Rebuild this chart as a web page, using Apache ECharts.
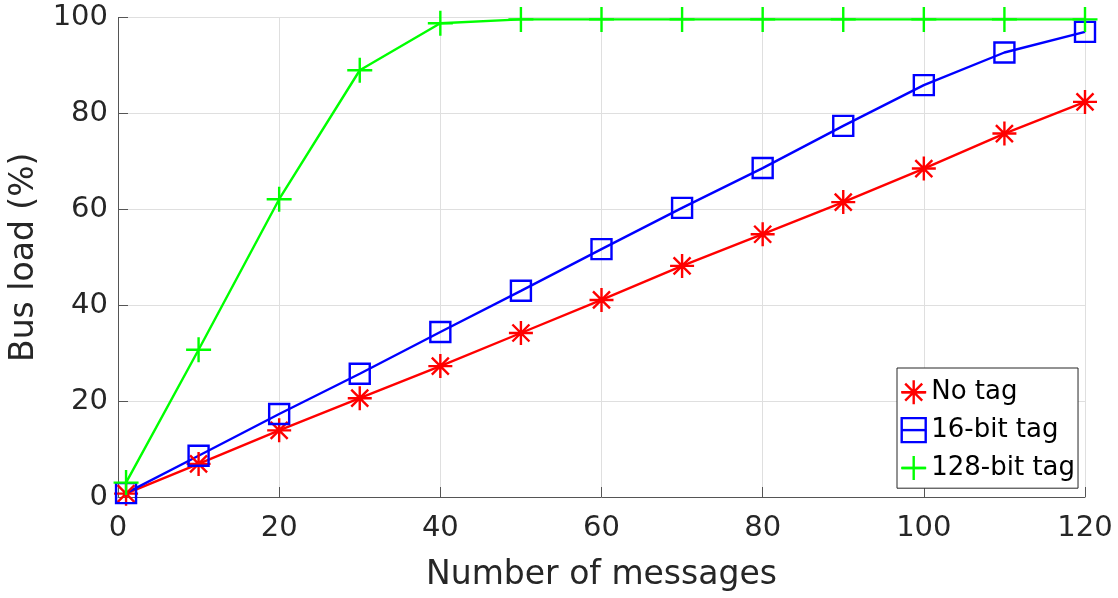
<!DOCTYPE html>
<html>
<head>
<meta charset="utf-8">
<script src="https://cdn.jsdelivr.net/npm/echarts@6/dist/echarts.min.js"></script>
<style>
  html, body { margin: 0; padding: 0; background: #fff; }
  #chart { width: 1118px; height: 598px; }
</style>
</head>
<body>
<div id="chart"></div>
<script>
const messages = [1, 10, 20, 30, 40, 50, 60, 70, 80, 90, 100, 110, 120];
const noTag = [0.7, 6.9, 13.9, 20.6, 27.3, 34.2, 41.1, 48.2, 54.8, 61.5, 68.5, 75.8, 82.4];
const tag16 = [0.8, 8.6, 17.3, 25.7, 34.4, 43.0, 51.7, 60.3, 68.6, 77.4, 85.9, 92.7, 97.0];
const tag128 = [3.0, 30.7, 62.1, 89.0, 98.8, 99.6, 99.6, 99.6, 99.6, 99.6, 99.6, 99.6, 99.6];
const seriesNames = ['No tag', '16-bit tag', '128-bit tag'];
const xTicks = { min: 0, max: 120, interval: 20 };
const yTicks = { min: 0, max: 100, interval: 20 };

const FONT = 'DejaVu Sans';
const ASTERISK = 'path://M12,0L12,24M0,12L24,12M3.5,3.5L20.5,20.5M20.5,3.5L3.5,20.5';
const PLUS = 'path://M12,0L12,24M0,12L24,12';

function pairs(ys) { return messages.map((x, i) => [x, ys[i]]); }

function mkSeries(name, ys, color, symbol, size) {
  return {
    name: name,
    type: 'line',
    data: pairs(ys),
    symbol: symbol,
    symbolSize: size,
    showAllSymbol: true,
    clip: false,
    lineStyle: { color: color, width: 2.4 },
    itemStyle: { color: 'transparent', borderColor: color, borderWidth: 2.4 },
    emphasis: { disabled: true },
    animation: false
  };
}

const chart = echarts.init(document.getElementById('chart'), null, { renderer: 'canvas' });
chart.setOption({
  animation: false,
  backgroundColor: '#fff',
  grid: { left: 118, right: 33, top: 17.5, bottom: 101, outerBoundsMode: 'none' },
  xAxis: {
    type: 'value',
    min: xTicks.min, max: xTicks.max, interval: xTicks.interval,
    name: 'Number of messages',
    nameLocation: 'middle',
    nameGap: 62,
    nameTextStyle: { fontFamily: FONT, fontSize: 33, color: '#262626' },
    axisLine: { show: true, lineStyle: { color: '#555', width: 1 } },
    axisTick: { show: true, inside: true, length: 10, lineStyle: { color: '#555' } },
    axisLabel: { fontFamily: FONT, fontSize: 29, color: '#262626', margin: 17 },
    splitLine: { show: true, lineStyle: { color: '#dfdfdf', width: 1 } }
  },
  yAxis: {
    type: 'value',
    min: yTicks.min, max: yTicks.max, interval: yTicks.interval,
    name: 'Bus load (%)',
    nameLocation: 'middle',
    nameGap: 77,
    nameTextStyle: { fontFamily: FONT, fontSize: 33, color: '#262626' },
    axisLine: { show: true, lineStyle: { color: '#555', width: 1 } },
    axisTick: { show: true, inside: true, length: 10, lineStyle: { color: '#555' } },
    axisLabel: { fontFamily: FONT, fontSize: 29, color: '#262626', margin: 10 },
    splitLine: { show: true, lineStyle: { color: '#dfdfdf', width: 1 } }
  },
  legend: {
    data: seriesNames,
    orient: 'vertical',
    align: 'left',
    left: 897,
    top: 368,
    itemWidth: 25,
    itemHeight: 30,
    itemGap: 11.5,
    padding: [11, 3, 7, 3],
    backgroundColor: '#fff',
    borderColor: '#262626',
    borderWidth: 1,
    borderRadius: 0,
    selectedMode: false,
    textStyle: { fontFamily: FONT, fontSize: 26, color: '#000' },
    itemStyle: { borderWidth: 2.4 },
    lineStyle: { width: 2.4 }
  },
  series: [
    mkSeries(seriesNames[0], noTag, '#ff0000', ASTERISK, 24),
    mkSeries(seriesNames[1], tag16, '#0000ff', 'rect', 20),
    mkSeries(seriesNames[2], tag128, '#00ff00', PLUS, 25)
  ]
});
</script>
</body>
</html>
